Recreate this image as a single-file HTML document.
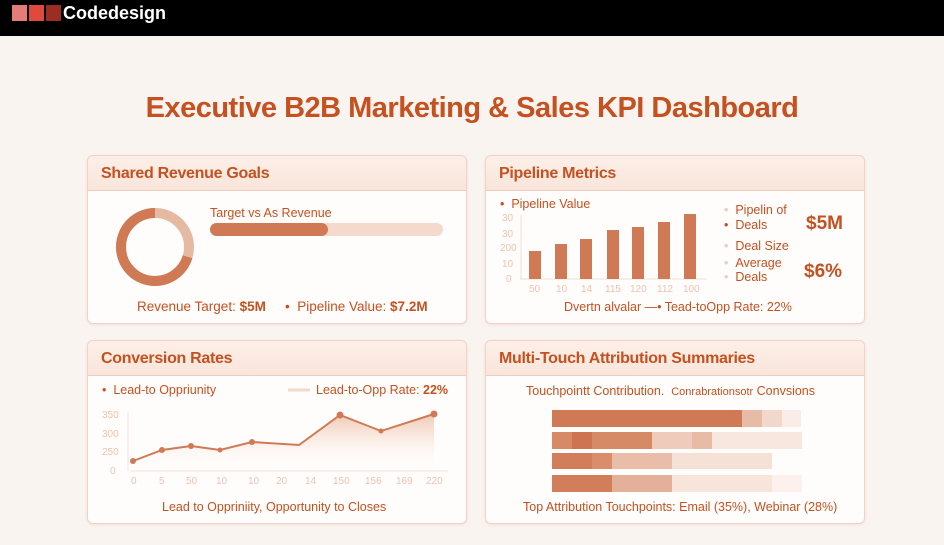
<!DOCTYPE html>
<html><head><meta charset="utf-8"><style>
body{margin:0;width:944px;height:545px;overflow:hidden;background:#faf4f1;font-family:"Liberation Sans",sans-serif;position:relative}
.top{position:absolute;left:0;top:0;width:944px;height:36px;background:#000}
.sq{position:absolute;top:5px;width:15px;height:16px}
.logo{position:absolute;left:63px;top:3px;color:#fff;font-weight:bold;font-size:18px}
h1{position:absolute;left:0;width:944px;top:92px;margin:0;text-align:center;color:#c4511f;font-size:29px;font-weight:bold;letter-spacing:-0.5px}
.card{position:absolute;background:#fffdfc;border:1px solid #f0d3c5;border-radius:6px;overflow:hidden;box-shadow:0 1px 3px rgba(200,120,80,.15)}
.hd{height:34px;background:linear-gradient(#fcefe8,#f9e5da);border-bottom:1px solid #efcdbd;color:#c4511f;font-weight:bold;font-size:16px;letter-spacing:-0.3px;line-height:36px;padding-left:13px}
.t{position:absolute;color:#c4511f;font-size:12.5px;white-space:nowrap}
.ax{position:absolute;color:#efc2ad;font-size:10px}
svg{position:absolute;left:0;top:0}
</style></head><body>
<div class="top"></div>
<div class="sq" style="left:12px;background:#e47c78"></div>
<div class="sq" style="left:29px;background:#df4a3e"></div>
<div class="sq" style="left:46px;background:#9c2d23"></div>
<div class="logo">Codedesign</div>
<h1>Executive B2B Marketing &amp; Sales KPI Dashboard</h1>

<div class="card" style="left:87px;top:155px;width:378px;height:167px"><div class="hd">Shared Revenue Goals</div></div>
<div class="card" style="left:485px;top:155px;width:378px;height:167px"><div class="hd">Pipeline Metrics</div></div>
<div class="card" style="left:87px;top:340px;width:378px;height:182px"><div class="hd">Conversion Rates</div></div>
<div class="card" style="left:485px;top:340px;width:378px;height:182px"><div class="hd">Multi-Touch Attribution Summaries</div></div>

<svg width="944" height="545">
<circle cx="155" cy="247" r="34" fill="none" stroke="#e6b9a2" stroke-width="10"/>
<circle cx="155" cy="247" r="34" fill="none" stroke="#d07a55" stroke-width="10" stroke-dasharray="150 214" transform="rotate(-90 155 247) scale(1,-1) translate(0,-494)"/>
<rect x="210" y="223" width="233" height="13" rx="6.5" fill="#f4dacd"/>
<rect x="210" y="223" width="118" height="13" rx="6.5" fill="#d07a55"/>
<line x1="520" y1="279" x2="707" y2="279" stroke="#f3ddd2"/>
<line x1="521" y1="215" x2="521" y2="279" stroke="#f3ddd2"/>
<g fill="#d07a55">
<rect x="529" y="251" width="12" height="28"/><rect x="555" y="244" width="12" height="35"/><rect x="580" y="239" width="12" height="40"/><rect x="607" y="230" width="12" height="49"/><rect x="632" y="227" width="12" height="52"/><rect x="658" y="222" width="12" height="57"/><rect x="684" y="214" width="12" height="65"/>
</g>
<line x1="130" y1="471" x2="448" y2="471" stroke="#f6e3da"/>
<line x1="128" y1="412" x2="128" y2="471" stroke="#f6e3da"/>
<defs><linearGradient id="g" x1="0" y1="0" x2="0" y2="1"><stop offset="0" stop-color="#f0c7b2"/><stop offset="1" stop-color="#fffdfc" stop-opacity="0"/></linearGradient></defs>
<polygon points="133,461 162,450 191,446 220,450 252,442 299,445 340,415 381,431 434,414 434,471 133,471" fill="url(#g)"/>
<polyline points="133,461 162,450 191,446 220,450 252,442 299,445 340,415 381,431 434,414" fill="none" stroke="#d07a55" stroke-width="2"/>
<g fill="#d07a55"><circle cx="133" cy="461" r="3"/><circle cx="162" cy="450" r="3"/><circle cx="191" cy="446" r="3"/><circle cx="220" cy="450" r="2.5"/><circle cx="252" cy="442" r="3"/><circle cx="340" cy="415" r="3.5"/><circle cx="381" cy="431" r="2.5"/><circle cx="434" cy="414" r="3.5"/></g>
<line x1="288" y1="390" x2="310" y2="390" stroke="#f2d8cc" stroke-width="3"/>
<g>
<rect x="552" y="410" width="190" height="17" fill="#d07a55"/><rect x="742" y="410" width="20" height="17" fill="#e7bca7"/><rect x="762" y="410" width="20" height="17" fill="#f2d8cb"/><rect x="782" y="410" width="19" height="17" fill="#faece6"/>
<rect x="552" y="432" width="100" height="17" fill="#d68a66"/><rect x="572" y="432" width="20" height="17" fill="#cf7450"/><rect x="652" y="432" width="60" height="17" fill="#eecbbb"/><rect x="692" y="432" width="20" height="17" fill="#e7bba6"/><rect x="712" y="432" width="90" height="17" fill="#f8e7df"/>
<rect x="552" y="453" width="40" height="16" fill="#d27e5a"/><rect x="592" y="453" width="20" height="16" fill="#d98d6b"/><rect x="612" y="453" width="60" height="16" fill="#e9bda8"/><rect x="672" y="453" width="100" height="16" fill="#f6e1d7"/>
<rect x="552" y="475" width="60" height="17" fill="#d27e5a"/><rect x="612" y="475" width="60" height="17" fill="#e4b09a"/><rect x="672" y="475" width="100" height="17" fill="#f7e4db"/><rect x="772" y="475" width="30" height="17" fill="#fcf1ec"/>
</g>
</svg>

<div class="t" style="left:210px;top:206px">Target vs As Revenue</div>
<div class="t" style="left:137px;top:299px;font-size:13.5px">Revenue Target: <b>$5M</b></div>
<div class="t" style="left:285px;top:299px;font-size:13.5px">• &nbsp;Pipeline Value: <b>$7.2M</b></div>

<div class="t" style="left:500px;top:197px">• &nbsp;Pipeline Value</div>
<div class="ax" style="left:502px;top:213px">30</div><div class="ax" style="left:502px;top:229px">30</div><div class="ax" style="left:500px;top:243px">200</div><div class="ax" style="left:502px;top:259px">10</div><div class="ax" style="left:506px;top:274px">0</div>
<div class="ax" style="left:529px;top:284px">50</div><div class="ax" style="left:556px;top:284px">10</div><div class="ax" style="left:581px;top:284px">14</div><div class="ax" style="left:605px;top:284px">115</div><div class="ax" style="left:630px;top:284px">120</div><div class="ax" style="left:657px;top:284px">112</div><div class="ax" style="left:683px;top:284px">100</div>
<div class="t" style="left:724px;top:203px"><span style="color:#f0c9b8">•</span> &nbsp;Pipelin of</div>
<div class="t" style="left:724px;top:218px">• &nbsp;Deals</div>
<div class="t" style="left:724px;top:239px"><span style="color:#f0c9b8">•</span> &nbsp;Deal Size</div>
<div class="t" style="left:724px;top:256px"><span style="color:#f0c9b8">•</span> &nbsp;Average</div>
<div class="t" style="left:724px;top:270px"><span style="color:#f0c9b8">•</span> &nbsp;Deals</div>
<div class="t" style="left:806px;top:213px;font-size:19px;font-weight:bold">$5M</div>
<div class="t" style="left:804px;top:261px;font-size:19px;font-weight:bold">$6%</div>
<div class="t" style="left:564px;top:300px">Dvertn alvalar —• Tead-toOpp Rate: 22%</div>

<div class="t" style="left:102px;top:383px">• &nbsp;Lead-to Oppriunity</div>
<div class="t" style="left:316px;top:383px">Lead-to-Opp Rate: <b>22%</b></div>
<div class="ax" style="left:102px;top:410px">350</div><div class="ax" style="left:102px;top:429px">300</div><div class="ax" style="left:102px;top:447px">250</div><div class="ax" style="left:110px;top:466px">0</div>
<div class="ax" style="left:131px;top:476px">0</div><div class="ax" style="left:159px;top:476px">5</div><div class="ax" style="left:186px;top:476px">50</div><div class="ax" style="left:216px;top:476px">10</div><div class="ax" style="left:248px;top:476px">10</div><div class="ax" style="left:276px;top:476px">20</div><div class="ax" style="left:305px;top:476px">14</div><div class="ax" style="left:333px;top:476px">150</div><div class="ax" style="left:365px;top:476px">156</div><div class="ax" style="left:396px;top:476px">169</div><div class="ax" style="left:426px;top:476px">220</div>
<div class="t" style="left:162px;top:500px">Lead to Oppriniity, Opportunity to Closes</div>

<div class="t" style="left:526px;top:384px">Touchpointt Contribution. &nbsp;<span style="font-size:11px">Conrabrationsotr</span> Convsions</div>
<div class="t" style="left:523px;top:500px">Top Attribution Touchpoints: Email (35%), Webinar (28%)</div>
</body></html>
